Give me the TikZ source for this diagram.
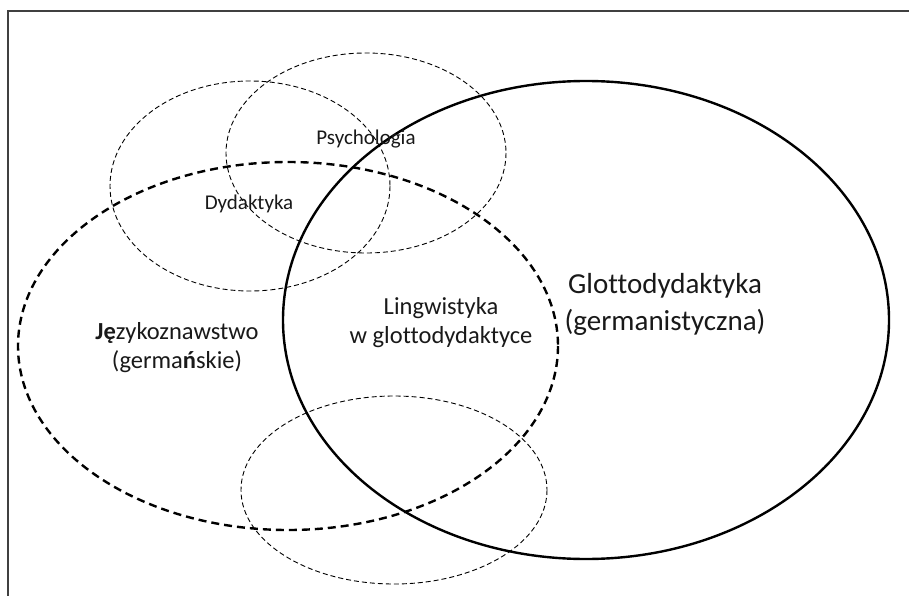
\documentclass[tikz,border=0pt]{standalone}
\usepackage{fontspec}
\setmainfont[Ligatures=NoCommon]{Carlito}
\begin{document}
\begin{tikzpicture}[x=1pt,y=-1pt,
  frameline/.style={draw=black!75,line width=1.5pt},
  solidell/.style={draw=black,line width=2.4pt},
  boldell/.style={draw=black,line width=2.4pt,dash pattern=on 8pt off 5pt},
  thinell/.style={draw=black,line width=0.9pt,dash pattern=on 5pt off 3pt},
  lbl/.style={align=center,inner sep=0pt,text=black!90}]
\useasboundingbox (0,0) rectangle (909,596);
\fill[white] (0,0) rectangle (909,596);
\coordinate (ftr) at (909,11);
\coordinate (ftl) at (8,11);
\coordinate (fbl) at (8,596);
\draw[frameline] (ftr) -- (ftl) -- (fbl);
% ellipses
\draw[thinell] (250,186) ellipse [x radius=140, y radius=105];
\draw[thinell] (366,153) ellipse [x radius=140, y radius=100];
\draw[thinell] (394,490) ellipse [x radius=153, y radius=94];
\draw[boldell] (288,346) ellipse [x radius=270, y radius=184];
\draw[solidell] (586,320) ellipse [x radius=303, y radius=239];
% labels
\node[lbl,font=\fontsize{21}{25}\selectfont] (psy) at (366,139) {Psychologia};
\node[lbl,font=\fontsize{21}{25}\selectfont] (dyd) at (249,204) {Dydaktyka};
\node[lbl,font=\fontsize{24.5}{29}\selectfont] (jez) at (177,348) {\textbf{Ję}zykoznawstwo\\(germa\textbf{ń}skie)};
\node[lbl,font=\fontsize{24.5}{29}\selectfont] (lin) at (441,323) {Lingwistyka\\w glottodydaktyce};
\node[lbl,font=\fontsize{29}{37}\selectfont] (glo) at (665,304) {Glottodydaktyka\\(germanistyczna)};
\end{tikzpicture}
\end{document}
